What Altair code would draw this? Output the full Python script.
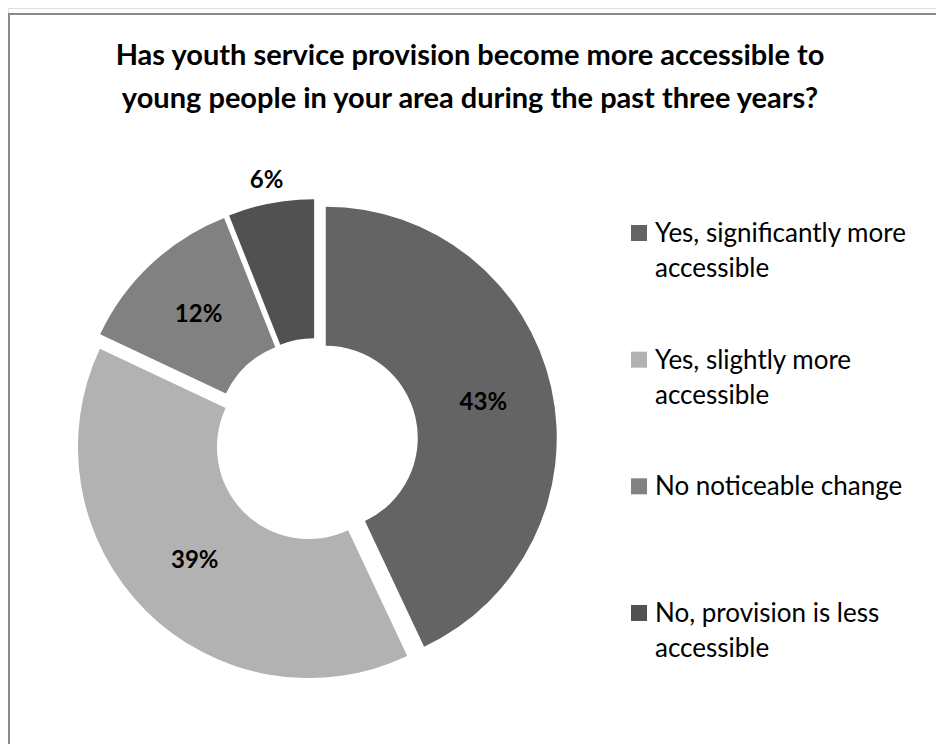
import altair as alt
import pandas as pd

# ---- data ----
categories = [
    "Yes, significantly more accessible",
    "Yes, slightly more accessible",
    "No noticeable change",
    "No, provision is less accessible",
]
values = [43, 39, 12, 6]
legend_text = [
    "Yes, significantly more|accessible",
    "Yes, slightly more|accessible",
    "No noticeable change",
    "No, provision is less|accessible",
]
colors = ["#646464", "#b2b2b2", "#818181", "#515151"]
title_lines = [
    "Has youth service provision become more accessible to",
    "young people in your area during the past three years?",
]

df = pd.DataFrame({
    "cat": categories,
    "value": values,
    "idx": list(range(len(categories))),
    "leg": legend_text,
})

CX, CY = 308, 432
EXPLODE = 10
FONT = "Lato"

base = alt.Chart(df).transform_window(
    cum="sum(value)", sort=[alt.SortField("idx")]
).transform_joinaggregate(total="sum(value)").transform_calculate(
    mid="(datum.cum - datum.value/2) / datum.total * 2 * PI",
).transform_calculate(
    ox=f"{EXPLODE} * sin(datum.mid)",
    oy=f"-{EXPLODE} * cos(datum.mid)",
    lr="datum.value < 8 ? 264 : 171.5",
    lab="datum.value + '%'",
)

color = alt.Color("cat:N", scale=alt.Scale(domain=categories, range=colors), legend=None)

arcs = base.mark_arc(
    innerRadius=92, outerRadius=231,
    xOffset=alt.ExprRef(expr="datum.ox"),
    yOffset=alt.ExprRef(expr="datum.oy"),
).encode(
    theta=alt.Theta("value:Q", stack=True),
    order=alt.Order("idx:Q"),
    color=color,
    x=alt.value(CX),
    y=alt.value(CY),
)

labels = base.mark_text(
    font=FONT, fontWeight="bold", fontSize=24, color="#000000",
).encode(
    theta=alt.Theta("mid:Q", scale=None),
    radius=alt.Radius("lr:Q", scale=None),
    text=alt.Text("lab:N"),
    x=alt.value(CX),
    y=alt.value(CY),
)

legend_y = alt.Y(
    "cat:N",
    scale=alt.Scale(type="point", domain=categories, range=[225, 605], padding=0),
    axis=None,
)

leg_sq = alt.Chart(df).mark_square(size=256, opacity=1).encode(
    x=alt.value(631),
    y=legend_y,
    color=color,
)

leg_txt = alt.Chart(df).transform_calculate(
    lines="split(datum.leg, '|')"
).mark_text(
    font=FONT, fontSize=26, align="left", baseline="alphabetic",
    dy=9, lineHeight=35, color="#000000",
).encode(
    x=alt.value(647),
    y=legend_y,
    text=alt.Text("lines:N"),
)

title_df = pd.DataFrame({"t": ["|".join(title_lines)]})
title = alt.Chart(title_df).transform_calculate(
    lines="split(datum.t, '|')"
).mark_text(
    font=FONT, fontWeight="bold", fontSize=29, align="center",
    baseline="alphabetic", lineHeight=43, color="#000000",
).encode(
    x=alt.value(462),
    y=alt.value(57),
    text=alt.Text("lines:N"),
)

frame_top = alt.Chart(title_df).mark_rule(color="#8a8a8a", strokeWidth=2).encode(
    x=alt.value(1), x2=alt.value(936), y=alt.value(6)
)
frame_left = alt.Chart(title_df).mark_rule(color="#8a8a8a", strokeWidth=2).encode(
    x=alt.value(1), y=alt.value(5), y2=alt.value(740)
)

chart = alt.layer(
    frame_top, frame_left, arcs, labels, leg_sq, leg_txt, title
).properties(
    width=928, height=736,
    autosize=alt.AutoSizeParams(type="none"),
    padding=0,
).configure_view(stroke=None).configure(background="white")

chart.save("out.html", embed_options={"renderer": "svg", "actions": False})
